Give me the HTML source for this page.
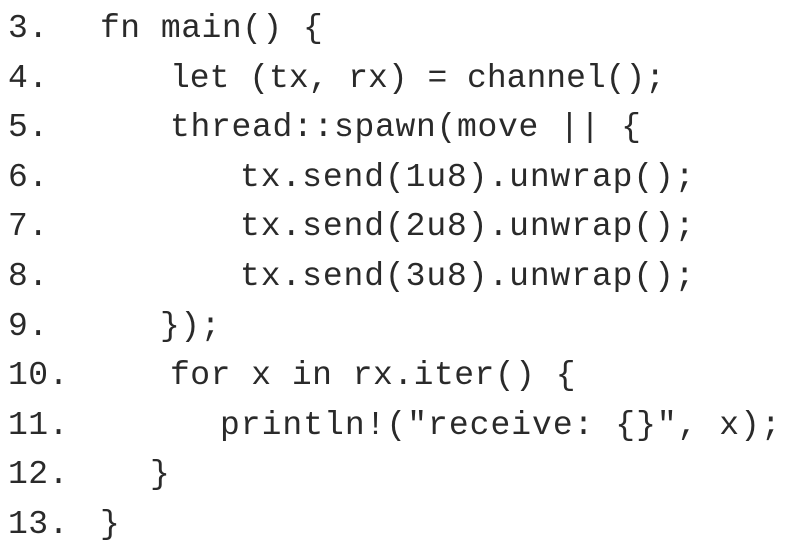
<!DOCTYPE html>
<html><head><meta charset="utf-8"><style>
html,body{margin:0;padding:0;background:#fff;width:803px;height:551px;overflow:hidden}
.l{position:absolute;font-family:"Liberation Mono",monospace;font-size:33px;letter-spacing:0.5px;color:#2a2a2a;white-space:pre;line-height:1}
</style></head><body>
<div class="l" style="left:8px;top:12px">3.</div><div class="l" style="left:100px;top:12px">fn main() {</div>
<div class="l" style="left:8px;top:62px">4.</div><div class="l" style="left:170px;top:62px;letter-spacing:0px">let (tx, rx) = channel();</div>
<div class="l" style="left:8px;top:111px">5.</div><div class="l" style="left:170px;top:111px;letter-spacing:0.7px">thread::spawn(move || {</div>
<div class="l" style="left:8px;top:161px">6.</div><div class="l" style="left:240px;top:161px;letter-spacing:0.9px">tx.send(1u8).unwrap();</div>
<div class="l" style="left:8px;top:210px">7.</div><div class="l" style="left:240px;top:210px;letter-spacing:0.9px">tx.send(2u8).unwrap();</div>
<div class="l" style="left:8px;top:260px">8.</div><div class="l" style="left:240px;top:260px;letter-spacing:0.9px">tx.send(3u8).unwrap();</div>
<div class="l" style="left:8px;top:310px">9.</div><div class="l" style="left:160px;top:310px">});</div>
<div class="l" style="left:8px;top:359px">10.</div><div class="l" style="left:170px;top:359px">for x in rx.iter() {</div>
<div class="l" style="left:8px;top:409px">11.</div><div class="l" style="left:220px;top:409px;letter-spacing:1px">println!("receive: {}", x);</div>
<div class="l" style="left:8px;top:458px">12.</div><div class="l" style="left:150px;top:458px">}</div>
<div class="l" style="left:8px;top:508px">13.</div><div class="l" style="left:100px;top:508px">}</div>
</body></html>
